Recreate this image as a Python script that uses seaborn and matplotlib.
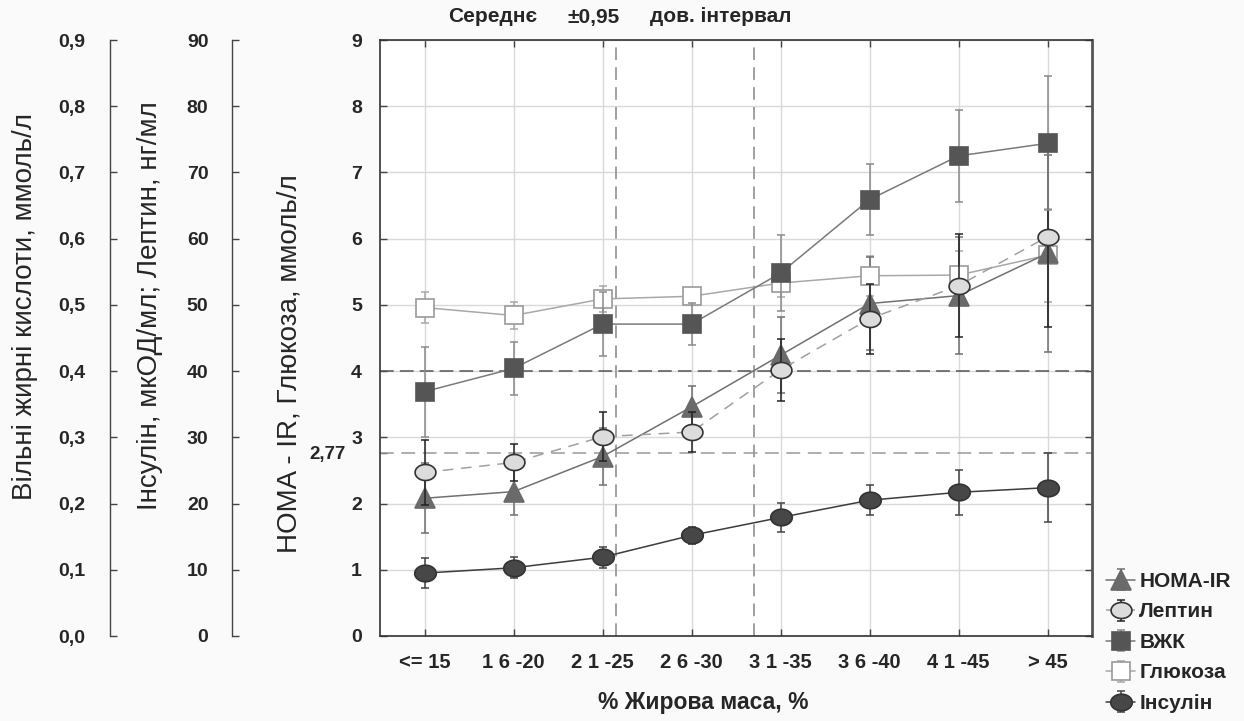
import matplotlib
matplotlib.use("Agg")
import matplotlib.pyplot as plt
from matplotlib.path import Path
from matplotlib.markers import MarkerStyle
import numpy as np
import seaborn as sns

# categories (% body fat)
groups = ["<= 15", "1 6 -20", "2 1 -25", "2 6 -30", "3 1 -35", "3 6 -40", "4 1 -45", "> 45"]

# main scale: HOMA-IR and glucose, mmol/l
homa = [2.08, 2.18, 2.71, 3.46, 4.24, 5.02, 5.14, 5.78]
homa_ci = [0.53, 0.35, 0.43, 0.31, 0.57, 0.70, 0.88, 1.49]
glucose = [4.96, 4.84, 5.09, 5.13, 5.33, 5.44, 5.45, 5.75]
glucose_ci = [0.24, 0.21, 0.20, 0.13, 0.21, 0.30, 0.37, 0.70]

# insulin (mkOD/ml) and leptin (ng/ml)
leptin = [24.7, 26.2, 30.1, 30.8, 40.2, 47.9, 52.9, 60.3]
leptin_ci = [4.9, 2.8, 3.7, 3.0, 4.7, 5.3, 7.8, 13.7]
insulin = [9.5, 10.3, 11.9, 15.2, 17.9, 20.5, 21.7, 22.4]
insulin_ci = [2.3, 1.6, 1.6, 1.3, 2.2, 2.3, 3.4, 5.2]

# free fatty acids, mmol/l
vzhk = [0.369, 0.404, 0.471, 0.471, 0.548, 0.659, 0.725, 0.744]
vzhk_ci = [0.068, 0.040, 0.048, 0.032, 0.057, 0.054, 0.070, 0.101]

# axis ticks
main_ticks = [0, 1, 2, 3, 4, 5, 6, 7, 8, 9]
main_labels = ["0", "1", "2", "3", "4", "5", "6", "7", "8", "9"]
mid_ticks = [0, 10, 20, 30, 40, 50, 60, 70, 80, 90]
mid_labels = ["0", "10", "20", "30", "40", "50", "60", "70", "80", "90"]
left_ticks = [0.0, 0.1, 0.2, 0.3, 0.4, 0.5, 0.6, 0.7, 0.8, 0.9]
left_labels = ["0,0", "0,1", "0,2", "0,3", "0,4", "0,5", "0,6", "0,7", "0,8", "0,9"]

# reference lines
homa_cut = 2.77
homa_cut_label = "2,77"
level_line = 4.0
group_cuts = [2.15, 3.7]

sns.set_style("white")
plt.rcParams["font.family"] = ["Liberation Sans", "DejaVu Sans"]
plt.rcParams["axes.unicode_minus"] = False

x = np.arange(len(groups))

fig = plt.figure(figsize=(12.44, 7.21), dpi=100, facecolor="#fafafa")
ax = fig.add_axes([380 / 1244, 1 - 636 / 721, 712 / 1244, 596 / 721])
ax.set_facecolor("white")

ax_mid = ax.twinx()
ax_left = ax.twinx()

# ellipse marker
t = np.linspace(0, 2 * np.pi, 60)
ell = Path(np.column_stack([1.3 * np.cos(t), np.sin(t)]), closed=True)
ellipse = MarkerStyle(ell)

# reference lines
ax.axhline(level_line, color="#555555", lw=1.1, dashes=(9, 4), zorder=1)
ax.axhline(homa_cut, color="#999999", lw=1.1, dashes=(9, 5), zorder=1)
for c in group_cuts:
    ax.axvline(c, color="#999999", lw=1.3, dashes=(7, 4), zorder=1)


def draw(axis, vals, ci, line_c, err_c, marker, ms, face, edge, ls="-", z=3):
    eb = axis.errorbar(x, vals, yerr=ci, fmt="none", ecolor=err_c, elinewidth=1.1,
                       capsize=3, capthick=1.1, zorder=z)
    sns.lineplot(x=x, y=vals, ax=axis, color=line_c, lw=1.1, linestyle=ls,
                 marker=marker, markersize=ms, markerfacecolor=face,
                 markeredgecolor=edge, markeredgewidth=1.2, zorder=z + 0.5)
    return (eb, axis.lines[-1])


h_glu = draw(ax, glucose, glucose_ci, "#a8a8a8", "#a8a8a8", "s", 12.5, "white", "#9a9a9a")
h_homa = draw(ax, homa, homa_ci, "#707070", "#707070", "^", 15, "#6a6a6a", "#6a6a6a")
h_ins = draw(ax_mid, insulin, insulin_ci, "#3c3c3c", "#444444", ellipse, 15.5, "#474747", "#333333")
h_lep = draw(ax_mid, leptin, leptin_ci, "#a0a0a0", "#222222", ellipse, 15, "#dcdcdc", "#333333",
             ls=(0, (7, 5)))
h_vzhk = draw(ax_left, vzhk, vzhk_ci, "#7a7a7a", "#8a8a8a", "s", 12.5, "#555555", "#555555")

# main axis
ax.set_xlim(-0.5, 7.5)
ax.set_ylim(0, 9)
ax.set_xticks(x)
ax.set_xticklabels(groups)
ax.set_yticks(main_ticks)
ax.set_yticklabels(main_labels)
ax.set_yticks([homa_cut], minor=True)
ax.set_yticklabels([homa_cut_label], minor=True)
ax.grid(True, color="#d9d9d9", lw=1)
ax.set_axisbelow(True)
ax.tick_params(axis="both", which="major", direction="in", length=5, width=1,
               color="#444444", labelsize=14.5)
ax.tick_params(axis="y", which="major", left=True, right=True, pad=13, labelsize=14)
ax.tick_params(axis="x", which="major", top=True, bottom=True, pad=12)
ax.tick_params(axis="y", which="minor", direction="in", length=5, width=1,
               color="#444444", labelsize=13.5, pad=25, left=True)
for lab in ax.get_xticklabels():
    lab.set_fontweight("bold")
for lab in ax.get_yticklabels(which="both"):
    lab.set_fontweight("bold")
ax.set_xlabel("")
ax.set_ylabel("")
for s in ["left", "bottom", "top"]:
    ax.spines[s].set_color("#333333")
    ax.spines[s].set_linewidth(1.2)
ax.spines["right"].set_color("#555555")
ax.spines["right"].set_linewidth(2)

# extra left scales
for axis, offset, lim, ticks, labels, pad in [
        (ax_mid, -148 / 712, (0, 90), mid_ticks, mid_labels, 17),
        (ax_left, -270 / 712, (0, 0.9), left_ticks, left_labels, 18)]:
    axis.set_ylim(*lim)
    axis.spines["left"].set_position(("axes", offset))
    axis.spines["left"].set_visible(True)
    axis.spines["left"].set_color("#444444")
    axis.spines["left"].set_linewidth(1)
    for s in ["right", "top", "bottom"]:
        axis.spines[s].set_visible(False)
    axis.yaxis.set_ticks_position("left")
    axis.yaxis.set_label_position("left")
    axis.set_yticks(ticks)
    axis.set_yticklabels(labels, fontweight="bold")
    axis.tick_params(axis="y", direction="in", length=5, width=1, color="#444444",
                     labelsize=14, pad=pad)
    axis.set_ylabel("")

# axis titles
fig.text(25 / 1244, 1 - 306 / 721, "Вільні жирні кислоти, ммоль/л", rotation=90,
         ha="center", va="center", fontsize=20)
fig.text(150 / 1244, 1 - 306 / 721, "Інсулін, мкОД/мл; Лептин, нг/мл", rotation=90,
         ha="center", va="center", fontsize=20)
fig.text(290 / 1244, 1 - 364 / 721, "HOMA - IR, Глюкоза, ммоль/л", rotation=90,
         ha="center", va="center", fontsize=20)
fig.text(703 / 1244, 1 - 703 / 721, "% Жирова маса, %", ha="center", va="center",
         fontsize=16.5, fontweight="bold")

# header
for xp, txt in [(448, "Середнє"), (568, "±0,95"), (650, "дов. інтервал")]:
    fig.text(xp / 1244, 1 - 17 / 721, txt, ha="left", va="center", fontsize=15,
             fontweight="bold")

handles = [h_homa, h_lep, h_vzhk, h_glu, h_ins]
labels = ["HOMA-IR", "Лептин", "ВЖК", "Глюкоза", "Інсулін"]
fig.legend(handles, labels, loc="upper left", bbox_to_anchor=(1106 / 1244, 1 - 572 / 721),
           frameon=False, prop={"weight": "bold", "size": 15}, handlelength=1.4,
           handletextpad=0.2, labelspacing=0.55, borderaxespad=0, borderpad=0)

fig.savefig("out.png", dpi=100, facecolor=fig.get_facecolor())
